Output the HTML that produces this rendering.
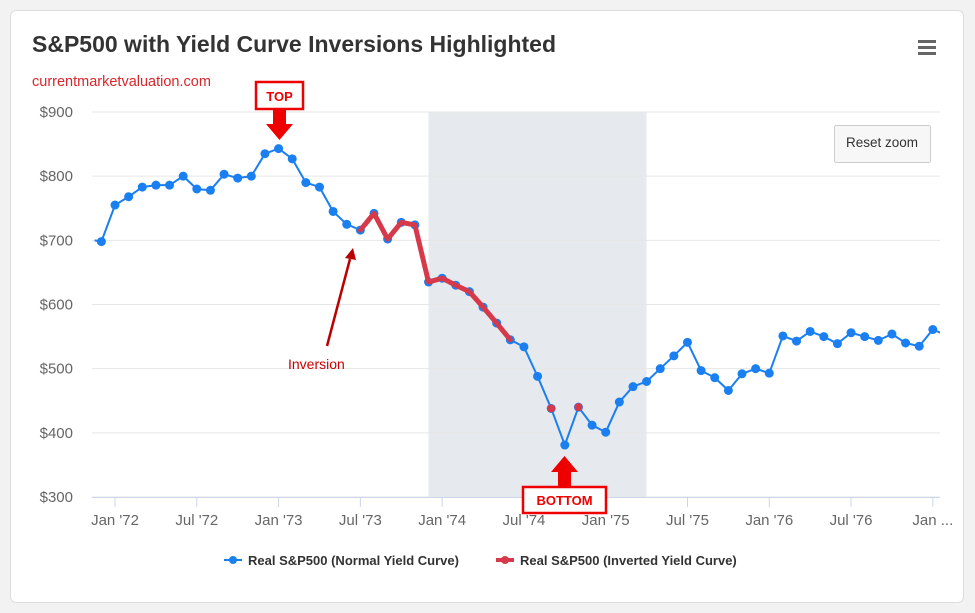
<!DOCTYPE html>
<html><head><meta charset="utf-8"><style>
body{margin:0;width:975px;height:613px;background:#f2f2f2;font-family:"Liberation Sans",sans-serif;overflow:hidden}
#card{position:absolute;left:10px;top:10px;width:952px;height:591px;background:#fff;border:1px solid #ddd;border-radius:6px}
svg{position:absolute;left:0;top:0}
</style></head><body>
<div id="card"></div>
<svg id="chart" width="975" height="613">
<text x="32" y="52" font-size="23" font-weight="bold" fill="#333">S&amp;P500 with Yield Curve Inversions Highlighted</text>
<text x="32" y="86" font-size="14.5" fill="#d9262b">currentmarketvaluation.com</text>
<g><rect x="918" y="40" width="18" height="3" fill="#666"/><rect x="918" y="46" width="18" height="3" fill="#666"/><rect x="918" y="52" width="18" height="3" fill="#666"/></g>
<g id="plot"></g>
<g><rect x="834.5" y="125.5" width="96" height="37" rx="2" fill="#f7f7f7" stroke="#ccc"/><text x="882" y="147" font-size="13.5" text-anchor="middle" fill="#333">Reset zoom</text></g>
<g><rect x="256" y="82" width="47" height="27" fill="#fff" stroke="#e00" stroke-width="2.5"/><text x="279.5" y="101" font-size="13" font-weight="bold" fill="#e00" text-anchor="middle">TOP</text><polygon points="273,110 286,110 286,124 293,124 279.5,140 266,124 273,124" fill="#e00"/></g>
<g><polygon points="558,487 571,487 571,472 578,472 564.5,456 551,472 558,472" fill="#e00"/><rect x="523" y="487" width="83" height="26" fill="#fff" stroke="#e00" stroke-width="2.5"/><text x="564.5" y="505" font-size="13" font-weight="bold" fill="#e00" text-anchor="middle">BOTTOM</text></g>
<g><line x1="327" y1="346" x2="350" y2="259" stroke="#b00" stroke-width="2.5"/><polygon points="345,258 356,260 353,248" fill="#b00"/><text x="288" y="369" font-size="14" fill="#c00">Inversion</text></g>
<g>
<line x1="224" y1="560" x2="242" y2="560" stroke="#1a7ff0" stroke-width="2"/><circle cx="233" cy="560" r="4" fill="#1a7ff0"/><text x="248" y="565" font-size="13" font-weight="bold" fill="#333">Real S&amp;P500 (Normal Yield Curve)</text>
<line x1="496" y1="560" x2="514" y2="560" stroke="#d63a4a" stroke-width="4"/><circle cx="505" cy="560" r="4" fill="#d63a4a"/><text x="520" y="565" font-size="13" font-weight="bold" fill="#333">Real S&amp;P500 (Inverted Yield Curve)</text>
</g>
</svg>
<script>
// months from Dec '71
const values=[698,755,768,783,786,786,800,780,778,803,797,800,835,843,827,790,783,745,725,716,742,702,728,724,635,641,630,620,596,571,545,534,488,438,381,440,412,401,448,472,480,500,520,541,497,486,466,492,500,493,551,543,558,550,539,556,550,544,554,540,535,561,552];
const inverted=[19,20,21,22,23,24,25,26,27,28,29,30];
const invertedSingles=[33,35];
const recessionStart=24, recessionEnd=40;
const yTicks=[300,400,500,600,700,800,900];
const xTickIdx=[1,7,13,19,25,31,37,43,49,55,61];
const xTickLabels=["Jan '72","Jul '72","Jan '73","Jul '73","Jan '74","Jul '74","Jan '75","Jul '75","Jan '76","Jul '76","Jan ..."];
const L=92,R=940,T=112,B=497;
const x=i=>101.4+i*13.63;
const y=v=>B-(v-300)/600*(B-T);
const NS="http://www.w3.org/2000/svg";
const g=document.getElementById('plot');
function el(t,a){const e=document.createElementNS(NS,t);for(const k in a)e.setAttribute(k,a[k]);g.appendChild(e);return e;}
const band=el('rect',{x:x(recessionStart),y:T,width:x(recessionEnd)-x(recessionStart),height:B-T,fill:'#e6e9ed'});


yTicks.forEach(t=>{
 const l=el('line',{x1:L,x2:R,y1:y(t),y2:y(t),stroke:'#e6e6e6'});
 
 
 const tx=el('text',{x:73,y:y(t)+5,'font-size':15,'text-anchor':'end',fill:'#666'});tx.textContent='$'+t;
 
 
});
el('line',{x1:L,x2:R,y1:B+0.5,y2:B+0.5,stroke:'#ccd6eb'});
xTickIdx.forEach((ix,k)=>{
 el('line',{x1:x(ix),x2:x(ix),y1:B,y2:B+10,stroke:'#ccd6eb'});
 const tx=el('text',{x:x(ix),y:B+28,'font-size':15,'text-anchor':'middle',fill:'#666'});tx.textContent=xTickLabels[k];
 
 
});
const cp=el('clipPath',{id:'cp'});const cr=document.createElementNS(NS,'rect');cr.setAttribute('x',L);cr.setAttribute('y',T-10);cr.setAttribute('width',R-L);cr.setAttribute('height',B-T+20);cp.appendChild(cr);
const pts=[[x(-0.5),y(700)]].concat(values.map((v,i)=>[x(i),y(v)]));
const line=el('polyline',{points:pts.map(p=>p.join(',')).join(' '),fill:'none',stroke:'#1a7ff0','stroke-width':2,'clip-path':'url(#cp)'});


values.forEach((v,i)=>{
 const c=el('circle',{cx:x(i),cy:y(v),r:4.5,fill:'#1a7ff0','clip-path':'url(#cp)'});
 
 
});
const inv=el('polyline',{points:inverted.map(i=>x(i)+','+y(values[i])).join(' '),fill:'none',stroke:'#d63a4a','stroke-width':5,'stroke-linejoin':'round','stroke-linecap':'round'});


invertedSingles.forEach(i=>{
 const c=el('circle',{cx:x(i),cy:y(values[i]),r:4,fill:'#d63a4a'});
 
 
});
</script>
</body></html>
